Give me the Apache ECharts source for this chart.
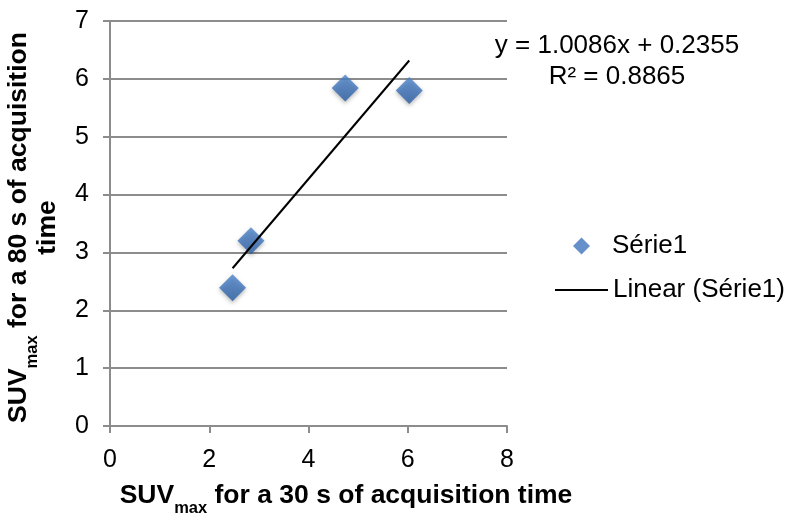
<!DOCTYPE html>
<html>
<head>
<meta charset="utf-8">
<script src="https://cdn.jsdelivr.net/npm/echarts@6/dist/echarts.min.js"></script>
<style>
  html, body { margin: 0; padding: 0; background: #fff; }
  #chart { width: 789px; height: 513px; }
</style>
</head>
<body>
<div id="chart"></div>
<script>
// SUVmax at 30 s vs 80 s acquisition time
const suv30 = [2.47, 2.84, 4.74, 6.03];
const suv80 = [2.39, 3.20, 5.84, 5.80];
const seriesName = 'Série1';
const trendName = 'Linear (Série1)';
// Linear trendline coefficients (as printed on the chart)
const slope = 1.0086;
const intercept = 0.2355;
const rSquared = 0.8865;
const xTicks = [0, 2, 4, 6, 8];
const yTicks = [0, 1, 2, 3, 4, 5, 6, 7];

const FONT = '"Liberation Sans", Arial, sans-serif';
const xMin = Math.min(...suv30), xMax = Math.max(...suv30);
const trendData = [xMin, xMax].map(x => [x, slope * x + intercept]);

const chart = echarts.init(document.getElementById('chart'), null, { renderer: 'canvas' });

const titleRich = {
  b: { fontFamily: FONT, fontSize: 26.5, fontWeight: 'bold', color: '#000' },
  s: { fontFamily: FONT, fontSize: 16.5, fontWeight: 'bold', color: '#000', verticalAlign: 'bottom', padding: [0, 0, -8, 0] }
};
const gray = '#8c8c8c';

chart.setOption({
  animation: false,
  backgroundColor: '#fff',
  textStyle: { fontFamily: FONT },
  grid: { left: 110, right: 282, top: 21, bottom: 87, containLabel: false, outerBoundsMode: 'none' },
  xAxis: {
    type: 'value',
    min: xTicks[0], max: xTicks[xTicks.length - 1], interval: 2,
    name: '{b|SUV}{s|max}{b| for a 30 s of acquisition time}',
    nameLocation: 'middle', nameGap: 56,
    nameTextStyle: { rich: titleRich, padding: [0, 0, 0, 75] },
    axisLine: { show: true, lineStyle: { color: gray, width: 2 } },
    axisTick: { show: true, inside: false, length: 7, lineStyle: { color: gray, width: 2 } },
    axisLabel: { fontFamily: FONT, fontSize: 25, color: '#000', margin: 22 },
    splitLine: { show: false }
  },
  yAxis: {
    type: 'value',
    min: yTicks[0], max: yTicks[yTicks.length - 1], interval: 1,
    name: '{b|SUV}{s|max}{b| for a 80 s of acquisition}\n{b|time}',
    nameLocation: 'middle', nameGap: 48, nameRotate: 90,
    nameTextStyle: { rich: titleRich, align: 'center', lineHeight: 29, padding: [0, 8, 0, 0] },
    axisLine: { show: true, lineStyle: { color: gray, width: 2 } },
    axisTick: { show: true, inside: false, length: 7, lineStyle: { color: gray, width: 2 } },
    axisLabel: { fontFamily: FONT, fontSize: 25, color: '#000', margin: 21 },
    splitLine: { show: true, lineStyle: { color: gray, width: 2 } }
  },
  legend: [
    {
      data: [{ name: seriesName, icon: 'diamond' }],
      left: 568, top: 228, orient: 'vertical', padding: 5,
      itemWidth: 17, itemHeight: 17,
      itemStyle: { color: '#3f74bc' },
      formatter: n => '{a|' + n + '}',
      textStyle: { rich: { a: { fontFamily: FONT, fontSize: 26, color: '#000', padding: [0, 0, 0, 17] } } },
      selectedMode: false
    },
    {
      data: [{ name: trendName, icon: 'rect' }],
      left: 550, top: 272, orient: 'vertical', padding: 5,
      itemWidth: 53, itemHeight: 2,
      itemStyle: { color: '#000' },
      textStyle: { fontFamily: FONT, fontSize: 26, color: '#000' },
      selectedMode: false
    }
  ],
  graphic: [
    {
      type: 'text', x: 617, y: 46,
      style: { text: 'y = ' + slope.toFixed(4) + 'x + ' + intercept.toFixed(4), fontFamily: FONT, fontSize: 26, fill: '#000', align: 'center', verticalAlign: 'middle' }
    },
    {
      type: 'text', x: 617, y: 77,
      style: { text: 'R² = ' + rSquared.toFixed(4), fontFamily: FONT, fontSize: 26, fill: '#000', align: 'center', verticalAlign: 'middle' }
    }
  ],
  series: [
    {
      name: seriesName,
      type: 'scatter',
      data: suv30.map((x, i) => [x, suv80[i]]),
      symbol: 'diamond',
      symbolSize: 27,
      itemStyle: {
        color: new echarts.graphic.LinearGradient(0, 0, 0, 1, [
          { offset: 0, color: '#4e86cd' },
          { offset: 1, color: '#2a5da4' }
        ]),
        shadowColor: 'rgba(0,0,0,0.35)', shadowBlur: 4, shadowOffsetY: 2
      },
      z: 3
    },
    {
      name: trendName,
      type: 'line',
      data: trendData,
      symbol: 'none',
      lineStyle: { color: '#000', width: 2 },
      z: 4
    }
  ]
});
</script>
</body>
</html>
